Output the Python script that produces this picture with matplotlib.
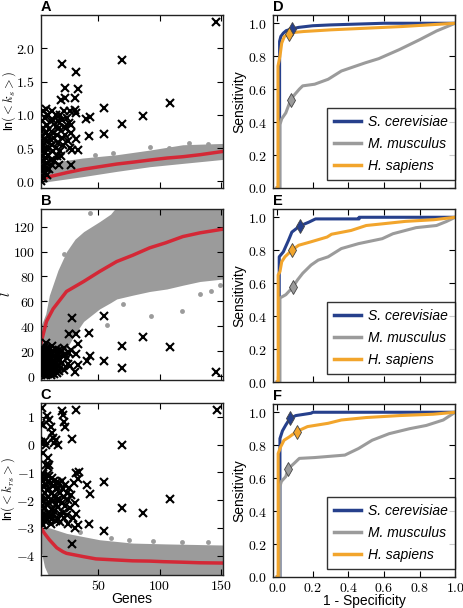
import numpy as np
import matplotlib
matplotlib.use('Agg')
import matplotlib.pyplot as plt
from matplotlib.ticker import FuncFormatter

plt.rcParams['font.family'] = ['Liberation Sans', 'DejaVu Sans']
plt.rcParams['mathtext.fontset'] = 'cm'

# colours
RED = '#d42836'
CLOUD = '#9b9b9b'
C_SC = '#26408c'
C_MM = '#9b9b9b'
C_HS = '#f2a52c'

# ---- panel A: ln(<k_s>) vs genes
a_curve_x = [3, 10, 24, 37, 51, 65, 79, 92, 106, 119, 133, 152]
a_curve_y = [0.03, 0.07, 0.13, 0.18, 0.22, 0.26, 0.29, 0.32, 0.35, 0.37, 0.40, 0.45]
a_band_x = [3, 10, 37, 65, 92, 119, 152]
a_band_lo = [-0.03, 0.0, 0.07, 0.15, 0.22, 0.27, 0.33]
a_band_hi = [0.25, 0.28, 0.35, 0.40, 0.47, 0.55, 0.57]
a_dots = [(62, 0.43), (92, 0.52), (124, 0.575), (140, 0.56), (47, 0.39), (108, 0.5)]
a_cross = [(146, 2.4), (69.6, 1.825), (108.7, 1.175), (86.4, 0.985), (69.6, 0.86),
           (54.6, 1.1), (54.6, 0.715), (42.4, 0.675), (43, 0.96), (39.7, 0.935),
           (31.5, 1.65), (33.7, 1.385), (20.4, 1.765), (22.6, 1.41), (30.7, 1.26),
           (22.6, 1.26), (19.3, 1.225), (31.5, 1.025), (30.7, 1.075), (31.5, 0.635),
           (33.7, 0.475), (28.8, 0.475), (26.6, 0.5), (28, 0.24), (19.8, 0.375),
           (23.9, 0.8), (27.5, 0.85),
           (3, 0.0), (3, 0.15), (3, 0.3), (3, 0.45), (3, 0.6), (3, 0.75), (4, 0.08),
           (4, 0.22), (4, 0.38), (4, 0.52), (4, 0.68), (4, 0.9), (5, 0.05), (5, 0.3),
           (5, 0.55), (5, 0.8), (5, 1.05), (6, 0.12), (6, 0.42), (6, 0.62), (6, 0.95),
           (7, 0.2), (7, 0.35), (7, 0.5), (7, 0.72), (7, 1.08), (8, 0.1), (8, 0.28),
           (8, 0.6), (8, 0.85), (9, 0.4), (9, 0.7), (9, 1.0), (10, 0.18), (10, 0.5),
           (10, 0.78), (11, 0.32), (11, 0.62), (11, 0.9), (12, 0.25), (12, 0.55),
           (12, 1.05), (13, 0.45), (13, 0.72), (13, 0.92), (14, 0.3), (14, 0.65),
           (15, 0.5), (15, 0.82), (15, 1.0), (16, 0.38), (16, 0.7), (17, 0.58),
           (17, 0.9), (18, 0.25), (18, 0.8), (19, 0.45), (19, 1.0), (20, 0.65),
           (20, 0.92), (21, 0.55), (22, 0.82), (22, 1.05), (23, 0.7), (24, 0.95),
           (25, 0.6), (26, 0.88), (27, 1.05), (28, 0.72)]

# ---- panel B: l vs genes
b_curve_x = [3, 7.6, 13, 24, 38, 51, 65, 78, 92, 105, 119, 133, 152]
b_curve_y = [26, 44, 54, 68, 76, 84, 92, 97, 103, 107, 112, 115, 118]
b_band_x = [3, 7, 10, 17, 24, 31, 38, 51, 60, 65, 78, 92, 106, 119, 133, 152]
b_band_lo = [0, 0, 0, 10, 22, 34, 44, 54, 59, 62, 65, 68, 70, 73, 76, 78]
b_band_hi = [40, 50, 65, 85, 100, 110, 116, 124, 130, 136, 140, 140, 140, 140, 140, 140]
b_dots = [(43, 130.7), (118, 52), (93, 48), (57, 41), (133, 66), (142, 68), (149, 73),
          (22, 98), (70, 58)]
b_cross = [(146, 3.5), (108.7, 23.6), (86.4, 31.6), (69.6, 24), (69.6, 7), (54.6, 48),
           (54.6, 12.3), (42.4, 35), (43.5, 16), (40.8, 12.3), (28.5, 47), (26.1, 33.5),
           (31.5, 33.5), (7.6, 26.8), (33.7, 26), (32, 18), (31, 3.5), (33.4, 9),
           (3, 1), (3, 5), (3, 9), (3, 13), (3, 17), (3, 21), (4, 3), (4, 7), (4, 11),
           (4, 15), (4, 19), (5, 2), (5, 6), (5, 10), (5, 14), (5, 22), (6, 4), (6, 8),
           (6, 12), (6, 16), (6, 20), (7, 1), (7, 5), (7, 9), (7, 13), (7, 18), (8, 3),
           (8, 7), (8, 11), (8, 23), (9, 2), (9, 6), (9, 15), (9, 19), (10, 4), (10, 9),
           (10, 12), (10, 21), (11, 1), (11, 7), (11, 14), (11, 17), (12, 3), (12, 10),
           (12, 18), (12, 24), (13, 5), (13, 12), (13, 20), (14, 2), (14, 8), (14, 16),
           (15, 6), (15, 11), (15, 22), (16, 3), (16, 14), (16, 19), (17, 9), (17, 17),
           (18, 4), (18, 21), (19, 7), (19, 13), (20, 11), (20, 20), (21, 16), (22, 5),
           (22, 23), (23, 18), (24, 15), (25, 10), (26, 19), (27, 8), (28, 21)]

# ---- panel C: ln(<k_rs>) vs genes
c_curve_x = [3, 6, 10, 16, 21, 24, 38, 48, 65, 78, 92, 103, 119, 133, 152]
c_curve_y = [-3.0, -3.2, -3.43, -3.72, -3.86, -3.92, -4.04, -4.12, -4.16, -4.19,
             -4.2, -4.22, -4.24, -4.26, -4.27]
c_band_x = [3, 6, 10, 24, 51, 78, 105, 152]
c_band_lo = [-3.8, -4.4, -4.8, -4.8, -4.8, -4.8, -4.8, -4.8]
c_band_hi = [-2.95, -2.98, -3.0, -3.2, -3.43, -3.55, -3.58, -3.62]
c_dots = [(95, -3.49), (118, -3.5), (75, -3.45), (140, -3.52), (60, -3.38), (35, -3.15)]
c_cross = [(147, 1.24), (69.6, -0.02), (108.7, -1.96), (86.4, -2.47), (69.6, -2.29),
           (54.6, -1.36), (54.6, -3.13), (40.8, -1.47), (43.5, -1.77), (42.4, -2.86),
           (28.8, -3.58), (31.5, 1.24), (28.5, 0.2), (32, -1.02),
           (4, 1.33), (5, 0.72), (6, 0.12), (5, -0.3), (8, 1.02), (10, 0.9), (11, 0.62),
           (12, 0.42), (13, 0.22), (14, 0.05), (15, 0.15), (17, 0.0), (20, 1.2),
           (22, 0.82), (23, 0.65), (21, 1.05), (7, 0.0), (9, -0.5), (7, -0.75),
           (9, -0.82), (10, -0.75), (3, 0.1), (3, 0.75), (3, -1.2),
           (3, -1.6), (3, -2.0), (3, -2.4), (3, -2.8), (4, -1.3), (4, -1.85), (4, -2.2),
           (4, -2.65), (5, -1.05), (5, -1.5), (5, -2.05), (5, -2.5), (5, -2.9),
           (6, -1.25), (6, -1.75), (6, -2.3), (6, -2.75), (7, -1.45), (7, -1.95),
           (7, -2.55), (8, -1.1), (8, -1.65), (8, -2.15), (8, -2.7), (9, -1.35),
           (9, -1.9), (9, -2.45), (10, -1.15), (10, -1.6), (10, -2.1), (10, -2.6),
           (11, -1.4), (11, -2.0), (11, -2.85), (12, -1.2), (12, -1.75), (12, -2.35),
           (12, -2.7), (13, -1.5), (13, -2.05), (13, -2.55), (14, -1.3), (14, -1.85),
           (14, -2.4), (15, -1.6), (15, -2.15), (15, -2.75), (16, -1.35), (16, -2.0),
           (17, -1.55), (17, -2.25), (17, -2.7), (18, -1.4), (18, -1.95), (19, -1.75),
           (19, -2.5), (19, -2.8), (20, -1.3), (20, -2.1), (21, -1.6), (21, -2.45),
           (22, -1.9), (22, -2.65), (23, -1.45), (23, -2.2), (24, -1.75), (24, -2.55),
           (25, -2.0), (25, -2.85), (26, -1.55), (27, -2.3), (28, -1.8), (29, -2.65),
           (30, -1.4), (31, -2.1), (32, -2.5), (33, -1.25), (31, -3.0), (33, -2.9),
           (34, -1.0)]

# ---- ROC curves (fpr, tpr) and chosen operating points
species = ['S. cerevisiae', 'M. musculus', 'H. sapiens']
roc_colors = [C_SC, C_MM, C_HS]

d_sc_fpr = [0.0, 0.013, 0.013, 0.02, 0.034, 0.05, 0.082, 0.12, 0.2, 0.3, 0.45, 0.6, 1.0]
d_sc_tpr = [0.0, 0.0, 0.89, 0.92, 0.94, 0.955, 0.966, 0.975, 0.985, 0.99, 0.995, 1.0, 1.0]
d_mm_fpr = [0.0, 0.015, 0.015, 0.025, 0.048, 0.076, 0.1, 0.124, 0.143, 0.21, 0.286,
            0.36, 0.495, 0.57, 0.686, 0.8, 0.895, 1.0]
d_mm_tpr = [0.0, 0.0, 0.385, 0.42, 0.456, 0.537, 0.57, 0.6, 0.62, 0.63, 0.66, 0.71,
            0.76, 0.785, 0.84, 0.9, 0.953, 1.0]
d_hs_fpr = [0.0, 0.004, 0.004, 0.015, 0.025, 0.04, 0.066, 0.1, 0.15, 0.3, 0.5, 0.7, 0.85, 1.0]
d_hs_tpr = [0.0, 0.0, 0.74, 0.8, 0.88, 0.92, 0.937, 0.945, 0.95, 0.96, 0.97, 0.98, 0.99, 1.0]
d_points = [(0.082, 0.966), (0.076, 0.537), (0.066, 0.937)]

e_sc_fpr = [0.0, 0.011, 0.011, 0.034, 0.063, 0.082, 0.126, 0.177, 0.215, 0.46, 0.46, 1.0]
e_sc_tpr = [0.0, 0.0, 0.76, 0.79, 0.86, 0.91, 0.947, 0.97, 0.99, 0.99, 1.0, 1.0]
e_mm_fpr = [0.0, 0.015, 0.015, 0.048, 0.086, 0.114, 0.143, 0.19, 0.23, 0.286, 0.36,
            0.457, 0.59, 0.65, 0.78, 0.895, 0.95, 1.0]
e_mm_tpr = [0.0, 0.0, 0.51, 0.53, 0.574, 0.62, 0.66, 0.71, 0.74, 0.76, 0.81, 0.84,
            0.87, 0.9, 0.937, 0.95, 0.974, 1.0]
e_hs_fpr = [0.0, 0.005, 0.005, 0.015, 0.025, 0.043, 0.082, 0.12, 0.186, 0.28, 0.305,
            0.415, 0.5, 0.59, 0.72, 0.88, 1.0]
e_hs_tpr = [0.0, 0.0, 0.65, 0.67, 0.73, 0.76, 0.80, 0.83, 0.85, 0.88, 0.897, 0.92,
            0.95, 0.96, 0.975, 0.985, 1.0]
e_points = [(0.126, 0.947), (0.086, 0.574), (0.082, 0.80)]

f_sc_fpr = [0.0, 0.015, 0.015, 0.029, 0.048, 0.072, 0.105, 0.19, 0.2, 1.0]
f_sc_tpr = [0.0, 0.0, 0.84, 0.887, 0.923, 0.964, 0.98, 0.994, 1.0, 1.0]
f_mm_fpr = [0.0, 0.015, 0.015, 0.023, 0.048, 0.061, 0.095, 0.124, 0.21, 0.38, 0.457,
            0.533, 0.629, 0.743, 0.838, 0.933, 1.0]
f_mm_tpr = [0.0, 0.0, 0.55, 0.58, 0.61, 0.657, 0.69, 0.72, 0.725, 0.74, 0.78, 0.83,
            0.87, 0.9, 0.92, 0.953, 1.0]
f_hs_fpr = [0.0, 0.005, 0.005, 0.019, 0.038, 0.067, 0.109, 0.17, 0.286, 0.36, 0.5,
            0.69, 0.876, 1.0]
f_hs_tpr = [0.0, 0.0, 0.75, 0.79, 0.83, 0.85, 0.883, 0.913, 0.933, 0.953, 0.968,
            0.98, 0.988, 1.0]
f_points = [(0.072, 0.964), (0.061, 0.657), (0.109, 0.883)]


def style_axes(ax, yfmt, xfmt='%g'):
    ax.tick_params(direction='in', top=True, right=True, length=4, width=0.8,
                   labelsize=10)
    ax.tick_params(axis='x', pad=3)
    ax.tick_params(axis='y', pad=4)
    ax.yaxis.set_major_formatter(FuncFormatter(lambda v, p: '$' + (yfmt % v) + '$'))
    ax.xaxis.set_major_formatter(FuncFormatter(lambda v, p: '$' + (xfmt % v) + '$'))
    for s in ax.spines.values():
        s.set_linewidth(1.0)
        s.set_color('#222222')


def panel_letter(ax, letter):
    ax.text(0.0, 1.008, letter, transform=ax.transAxes, fontsize=10.5,
            fontweight='bold', ha='left', va='bottom')


def scatter_panel(ax, bx, blo, bhi, dots, cx, cy, crosses):
    ax.fill_between(bx, blo, bhi, color=CLOUD, lw=0, zorder=1)
    d = np.array(dots)
    ax.plot(d[:, 0], d[:, 1], 'o', color=CLOUD, ms=3.5, mew=0, zorder=1)
    ax.plot(cx, cy, color=RED, lw=2.5, zorder=2)
    c = np.array(crosses)
    ax.plot(c[:, 0], c[:, 1], 'x', color='black', ms=5.5, mew=1.5, zorder=3)
    ax.set_xlim(3, 152)
    ax.set_xticks([50, 100, 150])


fig = plt.figure(figsize=(4.64, 6.08), dpi=100)

axA = fig.add_axes([0.088, 0.6908, 0.393, 0.2845])
axB = fig.add_axes([0.088, 0.375, 0.393, 0.281])
axC = fig.add_axes([0.088, 0.0543, 0.393, 0.283])
axD = fig.add_axes([0.588, 0.6908, 0.393, 0.2845])
axE = fig.add_axes([0.588, 0.3717, 0.393, 0.2845])
axF = fig.add_axes([0.588, 0.051, 0.393, 0.2845])

scatter_panel(axA, a_band_x, a_band_lo, a_band_hi, a_dots, a_curve_x, a_curve_y, a_cross)
axA.set_ylim(-0.1, 2.5)
axA.set_yticks([0.0, 0.5, 1.0, 1.5, 2.0])
style_axes(axA, '%.1f')
axA.set_xticklabels([])
axA.set_ylabel(r'ln$(<k_s>)$', fontsize=9)
axA.yaxis.set_label_coords(-0.125, 0.5)

scatter_panel(axB, b_band_x, b_band_lo, b_band_hi, b_dots, b_curve_x, b_curve_y, b_cross)
axB.set_ylim(-3, 134)
axB.set_yticks([0, 20, 40, 60, 80, 100, 120])
style_axes(axB, '%d')
axB.set_xticklabels([])
axB.set_ylabel(r'$l$', fontsize=10)
axB.yaxis.set_label_coords(-0.15, 0.5)

scatter_panel(axC, c_band_x, c_band_lo, c_band_hi, c_dots, c_curve_x, c_curve_y, c_cross)
axC.set_ylim(-4.7, 1.5)
axC.set_yticks([-4, -3, -2, -1, 0, 1])
style_axes(axC, '%d')
axC.set_xlabel('Genes', fontsize=10)
axC.xaxis.set_label_coords(0.5, -0.1)
axC.set_ylabel(r'ln$(<k_{rs}>)$', fontsize=9)
axC.yaxis.set_label_coords(-0.13, 0.5)

roc_sets = [
    (axD, [(d_sc_fpr, d_sc_tpr), (d_mm_fpr, d_mm_tpr), (d_hs_fpr, d_hs_tpr)], d_points),
    (axE, [(e_sc_fpr, e_sc_tpr), (e_mm_fpr, e_mm_tpr), (e_hs_fpr, e_hs_tpr)], e_points),
    (axF, [(f_sc_fpr, f_sc_tpr), (f_mm_fpr, f_mm_tpr), (f_hs_fpr, f_hs_tpr)], f_points),
]
for ax, curves, pts in roc_sets:
    for (fpr, tpr), col, name in zip(curves, roc_colors, species):
        ax.plot(fpr, tpr, color=col, lw=2.2, label=name)
    for (px, py), col in zip(pts, roc_colors):
        ax.plot([px], [py], marker='d', color=col, ms=7, mec='#444444', mew=0.6)
    ax.set_xlim(-0.025, 1.0)
    ax.set_ylim(0.0, 1.05)
    ax.set_xticks([0.0, 0.2, 0.4, 0.6, 0.8, 1.0])
    ax.set_yticks([0.0, 0.2, 0.4, 0.6, 0.8, 1.0])
    style_axes(ax, '%.1f', '%.1f')
    ax.set_ylabel('Sensitivity', fontsize=10)
    ax.yaxis.set_label_coords(-0.145, 0.5)
    leg = ax.legend(loc='lower right', bbox_to_anchor=(1.0, 0.045), borderaxespad=0,
                    handlelength=2.0, handletextpad=0.5,
                    labelspacing=0.6, borderpad=0.5, fancybox=False,
                    prop={'style': 'italic', 'size': 10})
    leg.get_frame().set_edgecolor('black')
    leg.get_frame().set_linewidth(1.0)
    for line in leg.get_lines():
        line.set_linewidth(2.5)

axD.set_xticklabels([])
axE.set_xticklabels([])
axF.set_xlabel('1 - Specificity', fontsize=10)
axF.xaxis.set_label_coords(0.5, -0.1)

for ax, letter in zip([axA, axB, axC, axD, axE, axF], 'ABCDEF'):
    panel_letter(ax, letter)

fig.savefig('out.png', dpi=100)
